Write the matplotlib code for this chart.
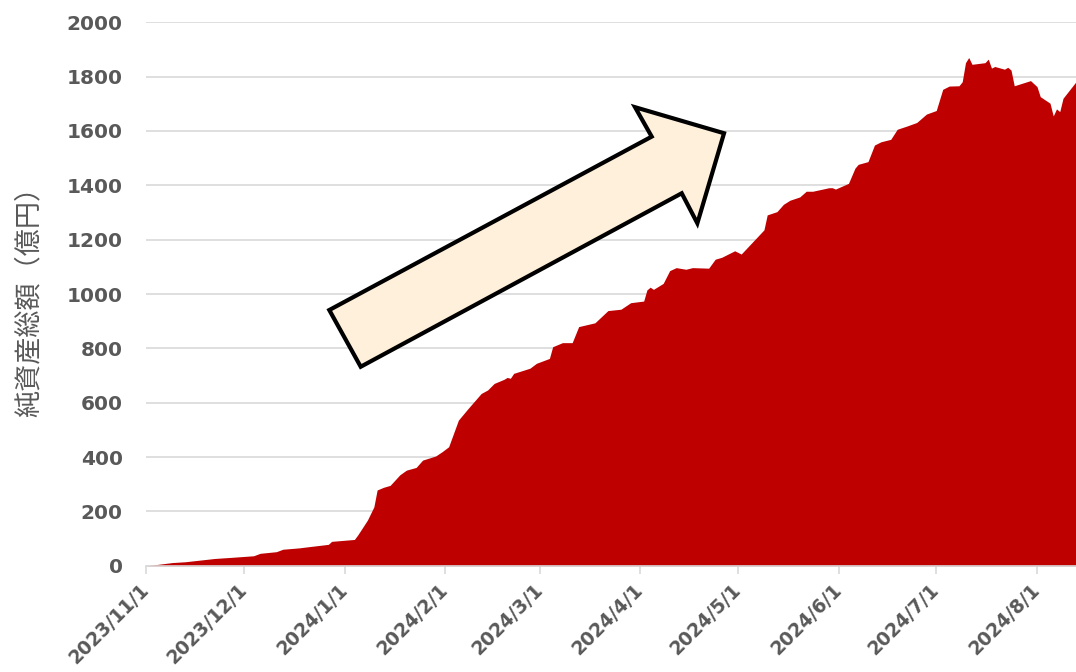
import matplotlib
matplotlib.use("Agg")
import matplotlib.pyplot as plt
from matplotlib.patches import Polygon
import pandas as pd

# 純資産総額（億円）
dates = [
    "2023-11-01", "2023-11-09", "2023-11-13", "2023-11-22", "2023-11-27",
    "2023-12-04", "2023-12-06", "2023-12-11", "2023-12-13", "2023-12-18",
    "2023-12-20", "2023-12-27", "2023-12-28", "2024-01-04", "2024-01-05",
    "2024-01-08", "2024-01-10", "2024-01-11", "2024-01-13", "2024-01-15",
    "2024-01-16", "2024-01-18", "2024-01-20", "2024-01-23", "2024-01-25",
    "2024-01-29", "2024-01-31", "2024-02-02", "2024-02-05", "2024-02-08",
    "2024-02-12", "2024-02-14", "2024-02-16", "2024-02-19", "2024-02-20",
    "2024-02-21", "2024-02-22", "2024-02-27", "2024-02-29", "2024-03-04",
    "2024-03-05", "2024-03-08", "2024-03-11", "2024-03-13", "2024-03-18",
    "2024-03-22", "2024-03-26", "2024-03-29", "2024-04-02", "2024-04-03",
    "2024-04-04", "2024-04-05", "2024-04-08", "2024-04-10", "2024-04-12",
    "2024-04-15", "2024-04-17", "2024-04-22", "2024-04-24", "2024-04-26",
    "2024-04-30", "2024-05-02", "2024-05-09", "2024-05-10", "2024-05-13",
    "2024-05-15", "2024-05-17", "2024-05-20", "2024-05-22", "2024-05-24",
    "2024-05-29", "2024-05-30", "2024-05-31", "2024-06-04", "2024-06-06",
    "2024-06-07", "2024-06-10", "2024-06-12", "2024-06-14", "2024-06-17",
    "2024-06-19", "2024-06-22", "2024-06-25", "2024-06-28", "2024-07-01",
    "2024-07-03", "2024-07-05", "2024-07-08", "2024-07-09", "2024-07-10",
    "2024-07-11", "2024-07-12", "2024-07-16", "2024-07-17", "2024-07-18",
    "2024-07-19", "2024-07-22", "2024-07-23", "2024-07-24", "2024-07-25",
    "2024-07-30", "2024-08-01", "2024-08-02", "2024-08-05", "2024-08-06",
    "2024-08-07", "2024-08-08", "2024-08-09", "2024-08-13",
]
nav = [
    0, 12, 15, 27, 31,
    37, 46, 52, 61, 66,
    69, 79, 90, 97, 113,
    168, 217, 279, 289, 296,
    309, 335, 352, 362, 389,
    404, 420, 438, 536, 579,
    634, 647, 671, 686, 693,
    690, 708, 727, 745, 763,
    806, 821, 821, 880, 894,
    939, 944, 968, 974, 1015,
    1025, 1017, 1039, 1086, 1097,
    1091, 1097, 1095, 1128, 1135,
    1159, 1147, 1236, 1291, 1303,
    1330, 1345, 1357, 1378, 1378,
    1391, 1391, 1386, 1407, 1463,
    1477, 1487, 1548, 1560, 1569,
    1606, 1618, 1631, 1662, 1675,
    1753, 1765, 1766, 1781, 1851,
    1870, 1845, 1851, 1864, 1831,
    1837, 1827, 1834, 1824, 1766,
    1785, 1763, 1726, 1702, 1655,
    1681, 1671, 1720, 1781,
]
tick_dates = ["2023-11-01", "2023-12-01", "2024-01-01", "2024-02-01", "2024-03-01",
              "2024-04-01", "2024-05-01", "2024-06-01", "2024-07-01", "2024-08-01"]
tick_labels = ["2023/11/1", "2023/12/1", "2024/1/1", "2024/2/1", "2024/3/1",
               "2024/4/1", "2024/5/1", "2024/6/1", "2024/7/1", "2024/8/1"]
yticks = [0, 200, 400, 600, 800, 1000, 1200, 1400, 1600, 1800, 2000]

x = pd.to_datetime(dates)

fig = plt.figure(figsize=(10.76, 6.72), dpi=100)
ax = fig.add_axes([0.136, 0.158, 0.864, 0.809])

ax.fill_between(x, nav, 0, color="#BF0000", linewidth=0)

ax.set_xlim(x[0], x[-1])
ax.set_ylim(0, 2000)
ax.set_yticks(yticks)
ax.set_xticks(pd.to_datetime(tick_dates))
ax.set_xticklabels(tick_labels)

gray = "#595959"
light = "#D9D9D9"
ax.yaxis.grid(True, color=light, linewidth=1.2)
ax.set_axisbelow(True)
for s in ["top", "right", "left"]:
    ax.spines[s].set_visible(False)
ax.spines["bottom"].set_color(light)
ax.spines["bottom"].set_linewidth(1.2)
ax.spines["bottom"].set_zorder(3)

ax.tick_params(axis="y", length=0, pad=17, labelsize=14.5, labelcolor=gray)
ax.tick_params(axis="x", length=6, width=1.2, color=light, pad=9,
               labelsize=13.5, labelcolor=gray)
for lab in ax.get_yticklabels() + ax.get_xticklabels():
    lab.set_fontfamily("DejaVu Sans")
    lab.set_fontweight("bold")
for lab in ax.get_xticklabels():
    lab.set_rotation(45)
    lab.set_ha("right")
    lab.set_va("center")
    lab.set_rotation_mode("anchor")

ax.set_ylabel("純資産総額（億円）", family=["Noto Sans CJK JP", "DejaVu Sans"],
              fontsize=19.5, color=gray)
ax.yaxis.set_label_coords(-0.111, 0.498)

# rising arrow (axes fraction)
arrow = Polygon([(0.1968, 0.4705), (0.2306, 0.3662), (0.5759, 0.6853),
                 (0.5927, 0.6301), (0.6214, 0.7957), (0.5257, 0.8436),
                 (0.5436, 0.7895)],
                closed=True, transform=ax.transAxes, facecolor="#FEF0DB",
                edgecolor="black", linewidth=3, joinstyle="miter", zorder=5)
ax.add_patch(arrow)

fig.savefig("out.png", dpi=100)
